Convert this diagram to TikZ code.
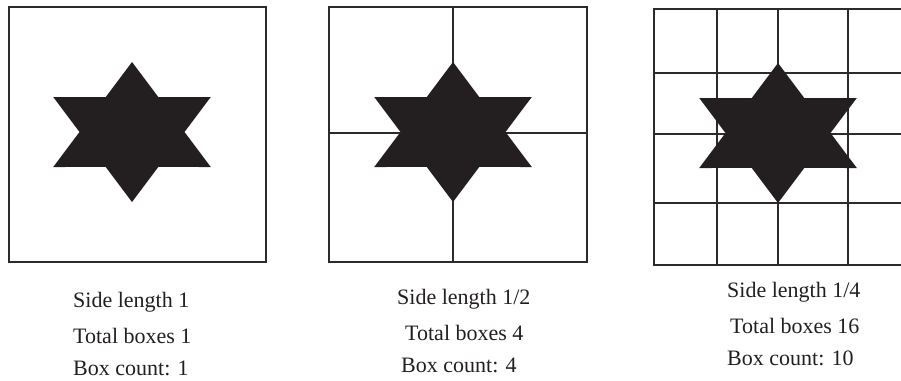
\documentclass[tikz,border=0pt]{standalone}
\usepackage{fontspec}
\setmainfont{Liberation Serif}
\usepackage{xcolor}
\definecolor{Ink}{HTML}{231F20}
\definecolor{Rule}{HTML}{2B2B2B}
\usepackage{tikz}

\begin{document}
\begin{tikzpicture}[x=1pt,y=-1pt,
  boxtext/.style={anchor=base west,inner sep=0pt,text=Ink,font=\fontsize{22}{26}\selectfont}]
\useasboundingbox (0,0) rectangle (901,380);
\draw[Rule,line width=2pt] (9,7) rectangle (266,262);
\draw[Rule,line width=2pt] (329,7) rectangle (587,262);
\draw[Rule,line width=1.5pt] (453,7) -- (453,262) (329,133) -- (587,133);
\draw[Rule,line width=2pt] (901,9) -- (654,9) -- (654,265) -- (901,265);
\foreach \x in {717,778,848}{\draw[Rule,line width=1.5pt] (\x,9) -- (\x,265);}
\foreach \y in {73,134,203}{\draw[Rule,line width=1.5pt] (654,\y) -- (901,\y);}
\foreach \cx/\cy in {132/132,453/132,778/133}{
  \begin{scope}[shift={(\cx,\cy)},xscale=1.3]
  \fill[Ink] (30:70) \foreach \a in {90,150,...,390}{ -- (\a-30:40.4) -- (\a:70)} -- cycle;
  \end{scope}
}
\node[boxtext] (side1) at (73,307) {Side length 1};
\node[boxtext] (total1) at (73,343) {Total boxes 1};
\node[boxtext] (count1) at (73,375) {Box count: 1};
\node[boxtext] (side2) at (397,304) {Side length 1/2};
\node[boxtext] (total2) at (405,340) {Total boxes 4};
\node[boxtext] (count2) at (401,372) {Box count: 4};
\node[boxtext] (side3) at (727,297) {Side length 1/4};
\node[boxtext] (total3) at (730,333) {Total boxes 16};
\node[boxtext] (count3) at (727,365) {Box count: 10};
\end{tikzpicture}
\end{document}
